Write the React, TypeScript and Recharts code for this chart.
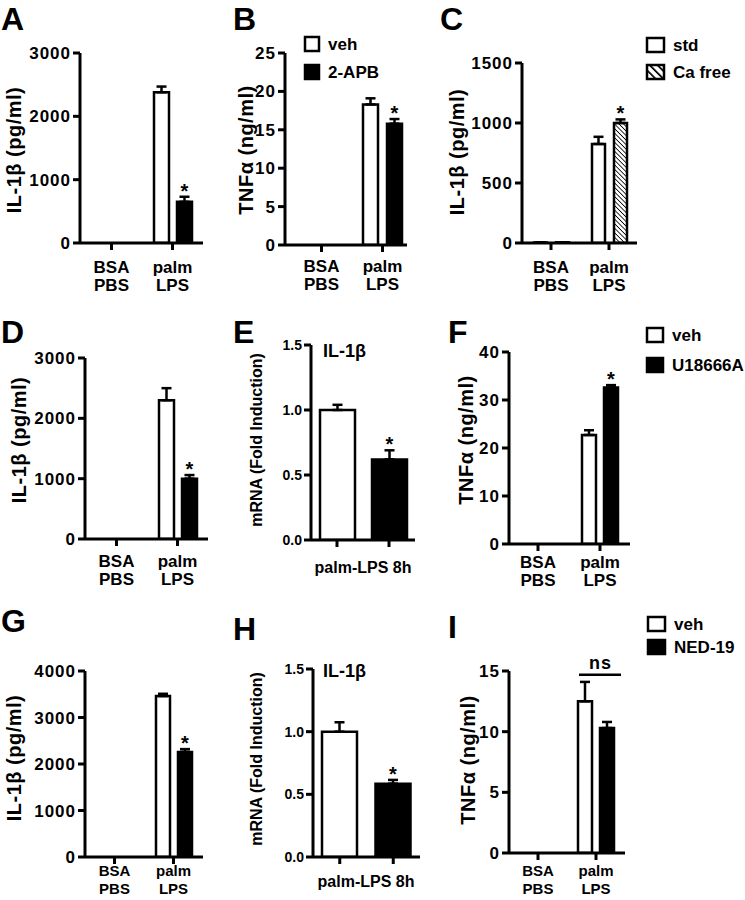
import React from "react";
import { Bar, BarChart, Cell, ErrorBar, LabelList, XAxis, YAxis } from "recharts";

const FONT = '"Liberation Sans", Arial, Helvetica, sans-serif';

// x categories
const groups = ["BSA\nPBS", "palm\nLPS"];
const eGroups = ["veh", "U18666A"];
const hGroups = ["veh", "NED-19"];

// A: IL-1β, veh vs 2-APB
const aVeh = [0, 2380];
const aVehSem = [0, 90];
const aDrug = [0, 650];
const aDrugSem = [0, 80];
const aStar = ["", "*"];

// B: TNFα, veh vs 2-APB
const bVeh = [0, 18.3];
const bVehSem = [0, 0.8];
const bDrug = [0, 15.8];
const bDrugSem = [0, 0.6];
const bStar = ["", "*"];

// C: IL-1β, std vs Ca free
const cStd = [5, 825];
const cStdSem = [0, 60];
const cCaFree = [6, 1000];
const cCaFreeSem = [0, 30];
const cStar = ["", "*"];

// D: IL-1β, veh vs U18666A
const dVeh = [0, 2300];
const dVehSem = [0, 200];
const dDrug = [0, 1000];
const dDrugSem = [0, 60];
const dStar = ["", "*"];

// E: IL-1β mRNA, palm-LPS 8h
const eMrna = [1.0, 0.62];
const eMrnaSem = [0.04, 0.07];
const eStar = ["", "*"];

// F: TNFα, veh vs U18666A
const fVeh = [0, 22.7];
const fVehSem = [0, 1.0];
const fDrug = [0, 32.6];
const fDrugSem = [0, 0.5];
const fStar = ["", "*"];

// G: IL-1β, veh vs NED-19
const gVeh = [0, 3460];
const gVehSem = [0, 50];
const gDrug = [0, 2260];
const gDrugSem = [0, 60];
const gStar = ["", "*"];

// H: IL-1β mRNA, palm-LPS 8h
const hMrna = [1.0, 0.585];
const hMrnaSem = [0.075, 0.03];
const hStar = ["", "*"];

// I: TNFα, veh vs NED-19 (not significant)
const iVeh = [0, 12.5];
const iVehSem = [0, 1.6];
const iDrug = [0, 10.3];
const iDrugSem = [0, 0.5];
const iNs = ["", "ns"];
const iNsLevel = 14.7;

const AXIS = { stroke: "#000", strokeWidth: 3 };

type Series = { key: string; err: string; star: string; fill: string };

const twoSeries = (fill2: string): Series[] => [
  { key: "v1", err: "e1", star: "s1", fill: "#fff" },
  { key: "v2", err: "e2", star: "s2", fill: fill2 },
];

const rows2 = (v1: number[], e1: number[], v2: number[], e2: number[], s2: string[], ns?: string[]) =>
  groups.map((name, i) => ({
    name, v1: v1[i], e1: e1[i], v2: v2[i], e2: e2[i], s1: "", s2: s2[i], ns: ns ? ns[i] : "",
  }));

const rows1 = (names: string[], v: number[], e: number[], s: string[]) =>
  names.map((name, i) => ({ name, v1: v[i], e1: e[i], s1: s[i], ns: "" }));

// label value is "mark|value|sem" so the mark can be placed above the error cap
const starContent = (p: any) => {
  const vb = p.viewBox ?? p;
  const [mark, v, e] = String(p.value ?? "").split("|");
  if (!mark) return null;
  const per = Math.abs(vb.height) / Number(v);
  const top = vb.y - Number(e) * per;
  return (
    <text x={vb.x + vb.width / 2} y={top + 1} textAnchor="middle" fontFamily={FONT} fontWeight={700} fontSize={20} fill="#000">
      {mark}
    </text>
  );
};

const nsContent = (p: any) => {
  const vb = p.viewBox ?? p;
  const [mark, v, level] = String(p.value ?? "").split("|");
  if (!mark) return null;
  const per = Math.abs(vb.height) / Number(v);
  const y = vb.y - (Number(level) - Number(v)) * per;
  const x2 = vb.x + vb.width * 2 + 15;
  return (
    <g>
      <line x1={vb.x + 1} x2={x2} y1={y} y2={y} stroke="#000" strokeWidth={2.5} />
      <text x={(vb.x + x2) / 2 + 1} y={y - 6} textAnchor="middle" fontFamily={FONT} fontWeight={700} fontSize={18} letterSpacing={1} fill="#000">
        {mark}
      </text>
    </g>
  );
};

const twoLineTick = (dy: number, lh: number, size: number) => (p: any) => {
  const lines = String(p.payload.value).split("\n");
  return (
    <text x={p.x} y={p.y} textAnchor="middle" fontFamily={FONT} fontWeight={700} fontSize={size} fill="#000">
      {lines.map((l, i) => (
        <tspan key={i} x={p.x} y={p.y + dy + i * lh}>
          {l}
        </tspan>
      ))}
    </text>
  );
};

const noTick = () => <g />;

type Spec = {
  x0: number;
  x1: number;
  yTop: number;
  yZero: number;
  max: number;
  ticks: number[];
  tickFont: number;
  tickSpacing: number;
  decimals?: number;
  rows: any[];
  series: Series[];
  barSize: number;
  barGap: number;
  padL: number;
  padR: number;
  labelDy: number | null;
  lineH?: number;
  labelFont?: number;
  cellFills?: string[];
  nsLevel?: number;
};

function Panel({ s }: { s: Spec }) {
  const YW = 70;
  const XH = 62;
  const MT = 24;
  const MR = 12;
  const left = s.x0 - YW;
  const top = s.yTop - MT;
  const width = s.x1 + MR - left;
  const height = s.yZero + XH - top;
  return (
    <div style={{ position: "absolute", left, top }}>
      <BarChart
        width={width}
        height={height}
        data={s.rows}
        margin={{ top: MT, right: MR, bottom: 0, left: 0 }}
        barGap={s.barGap}
        barSize={s.barSize}
      >
        <XAxis
          dataKey="name"
          height={XH}
          axisLine={AXIS}
          tickLine={AXIS}
          tickSize={7}
          tickMargin={0}
          interval={0}
          padding={{ left: s.padL, right: s.padR }}
          tick={s.labelDy === null ? noTick : twoLineTick(s.labelDy, s.lineH ?? 18, s.labelFont ?? 17)}
        />
        <YAxis
          width={YW}
          domain={[0, s.max]}
          ticks={s.ticks}
          interval={0}
          allowDataOverflow
          axisLine={AXIS}
          tickLine={AXIS}
          tickSize={7}
          tickMargin={2}
          tick={{ fill: "#000", fontSize: s.tickFont, fontWeight: 700, fontFamily: FONT, letterSpacing: s.tickSpacing }}
          tickFormatter={(v: number) => (s.decimals ? v.toFixed(s.decimals) : String(v))}
        />
        {s.series.map((se, si) => (
          <Bar key={se.key} dataKey={se.key} fill={se.fill} stroke="#000" strokeWidth={2.5} isAnimationActive={false}>
            {s.cellFills && s.cellFills.map((f, i) => <Cell key={i} fill={f} />)}
            <ErrorBar
              dataKey={(r: any) => [0, r[se.err]]}
              width={5}
              stroke="#000"
              strokeWidth={2.5}
              direction="y"
              isAnimationActive={false}
            />
            <LabelList
              dataKey={(r: any) => (r[se.star] ? `${r[se.star]}|${r[se.key]}|${r[se.err]}` : "")}
              content={starContent}
            />
            {s.nsLevel !== undefined && si === 0 && (
              <LabelList dataKey={(r: any) => (r.ns ? `${r.ns}|${r.v1}|${s.nsLevel}` : "")} content={nsContent} />
            )}
          </Bar>
        ))}
      </BarChart>
    </div>
  );
}

const panels: Spec[] = [
  {
    x0: 80, x1: 203, yTop: 53, yZero: 243, max: 3000, ticks: [0, 1000, 2000, 3000], tickFont: 17, tickSpacing: 1,
    rows: rows2(aVeh, aVehSem, aDrug, aDrugSem, aStar), series: twoSeries("#000"),
    barSize: 15, barGap: 8, padL: 1, padR: 0, labelDy: 23,
  },
  {
    x0: 285, x1: 407, yTop: 53, yZero: 245, max: 25, ticks: [0, 5, 10, 15, 20, 25], tickFont: 17, tickSpacing: 1,
    rows: rows2(bVeh, bVehSem, bDrug, bDrugSem, bStar), series: twoSeries("#000"),
    barSize: 15, barGap: 9, padL: 6, padR: -6, labelDy: 20,
  },
  {
    x0: 522, x1: 637, yTop: 63, yZero: 243, max: 1500, ticks: [0, 500, 1000, 1500], tickFont: 17, tickSpacing: 1,
    rows: rows2(cStd, cStdSem, cCaFree, cCaFreeSem, cStar), series: twoSeries("url(#hatchFine)"),
    barSize: 13, barGap: 9, padL: 0, padR: -1, labelDy: 23,
  },
  {
    x0: 85, x1: 208, yTop: 358, yZero: 539, max: 3000, ticks: [0, 1000, 2000, 3000], tickFont: 17, tickSpacing: 1,
    rows: rows2(dVeh, dVehSem, dDrug, dDrugSem, dStar), series: twoSeries("#000"),
    barSize: 15, barGap: 8, padL: 1, padR: 0, labelDy: 21,
  },
  {
    x0: 311, x1: 415, yTop: 345, yZero: 540, max: 1.5, ticks: [0, 0.5, 1, 1.5], tickFont: 14, tickSpacing: 0, decimals: 1,
    rows: rows1(eGroups, eMrna, eMrnaSem, eStar), series: [{ key: "v1", err: "e1", star: "s1", fill: "#000" }],
    barSize: 35, barGap: 0, padL: 0, padR: 0, labelDy: null, cellFills: ["#fff", "#000"],
  },
  {
    x0: 509, x1: 630, yTop: 352, yZero: 544, max: 40, ticks: [0, 10, 20, 30, 40], tickFont: 17, tickSpacing: 1,
    rows: rows2(fVeh, fVehSem, fDrug, fDrugSem, fStar), series: twoSeries("#000"),
    barSize: 14, barGap: 8, padL: -2, padR: -1, labelDy: 17,
  },
  {
    x0: 85, x1: 203, yTop: 671, yZero: 857, max: 4000, ticks: [0, 1000, 2000, 3000, 4000], tickFont: 17, tickSpacing: 1,
    rows: rows2(gVeh, gVehSem, gDrug, gDrugSem, gStar), series: twoSeries("#000"),
    barSize: 14, barGap: 8, padL: 0, padR: 0, labelDy: 12, lineH: 17.5, labelFont: 15,
  },
  {
    x0: 313, x1: 420, yTop: 669, yZero: 857, max: 1.5, ticks: [0, 0.5, 1, 1.5], tickFont: 14, tickSpacing: 0, decimals: 1,
    rows: rows1(hGroups, hMrna, hMrnaSem, hStar), series: [{ key: "v1", err: "e1", star: "s1", fill: "#000" }],
    barSize: 35, barGap: 0, padL: 0, padR: 0, labelDy: null, cellFills: ["#fff", "#000"],
  },
  {
    x0: 509, x1: 625, yTop: 671, yZero: 853, max: 15, ticks: [0, 5, 10, 15], tickFont: 17, tickSpacing: 1,
    rows: rows2(iVeh, iVehSem, iDrug, iDrugSem, ["", ""], iNs), series: twoSeries("#000"),
    barSize: 14, barGap: 8, padL: 0, padR: 0, labelDy: 16, lineH: 17.5, labelFont: 15, nsLevel: iNsLevel,
  },
];

const letters = [
  { t: "A", x: 1, y: 30 },
  { t: "B", x: 233, y: 30 },
  { t: "C", x: 440, y: 30 },
  { t: "D", x: 1, y: 343 },
  { t: "E", x: 233, y: 343 },
  { t: "F", x: 448, y: 343 },
  { t: "G", x: 1, y: 632 },
  { t: "H", x: 233, y: 640 },
  { t: "I", x: 448, y: 638 },
];

const yLabels = [
  { t: "IL-1β (pg/ml)", x: 14, y: 150, size: 20, sp: 0.5 },
  { t: "TNFα (ng/ml)", x: 246, y: 150, size: 20, sp: 0.5 },
  { t: "IL-1β (pg/ml)", x: 457, y: 152, size: 20, sp: 0.5 },
  { t: "IL-1β (pg/ml)", x: 19, y: 440, size: 20, sp: 0.5 },
  { t: "mRNA (Fold Induction)", x: 256, y: 440, size: 16, sp: 0 },
  { t: "TNFα (ng/ml)", x: 466, y: 440, size: 20, sp: 0.5 },
  { t: "IL-1β (pg/ml)", x: 14, y: 758, size: 20, sp: 0.5 },
  { t: "mRNA (Fold Induction)", x: 256, y: 759, size: 16, sp: 0 },
  { t: "TNFα (ng/ml)", x: 468, y: 760, size: 20, sp: 0.5 },
];

const legends = [
  { x: 305, y: 37, w: 14, names: ["veh", "2-APB"], fills: ["#fff", "#000"], gap: 28 },
  { x: 647, y: 38, w: 17, names: ["std", "Ca free"], fills: ["#fff", "url(#hatchWide)"], gap: 27 },
  { x: 647, y: 328, w: 16, names: ["veh", "U18666A"], fills: ["#fff", "#000"], gap: 30 },
  { x: 648, y: 617, w: 17, names: ["veh", "NED-19"], fills: ["#fff", "#000"], gap: 23 },
];

const titles = [
  { t: "IL-1β", x: 323, y: 357 },
  { t: "IL-1β", x: 323, y: 677 },
];

const xTitles = [
  { t: "palm-LPS 8h", x: 363, y: 573 },
  { t: "palm-LPS 8h", x: 366, y: 887 },
];

export default function App() {
  return (
    <div style={{ position: "absolute", left: 0, top: 0, width: 745, height: 900, background: "#fff", overflow: "hidden" }}>
      <svg width={0} height={0} style={{ position: "absolute" }}>
        <defs>
          <pattern id="hatchFine" patternUnits="userSpaceOnUse" width={3.2} height={3.2} patternTransform="rotate(-45)">
            <rect width={3.2} height={3.2} fill="#fff" />
            <line x1={0} y1={0} x2={0} y2={3.2} stroke="#000" strokeWidth={1.6} />
          </pattern>
          <pattern id="hatchWide" patternUnits="userSpaceOnUse" width={5.5} height={5.5} patternTransform="rotate(-45)">
            <rect width={5.5} height={5.5} fill="#fff" />
            <line x1={0} y1={0} x2={0} y2={5.5} stroke="#000" strokeWidth={3.4} />
          </pattern>
        </defs>
      </svg>
      {panels.map((s, i) => (
        <Panel key={i} s={s} />
      ))}
      <svg width={745} height={900} style={{ position: "absolute", left: 0, top: 0, pointerEvents: "none" }}>
        {letters.map((l) => (
          <text key={l.t} x={l.x} y={l.y} fontFamily={FONT} fontWeight={700} fontSize={32} fill="#000">
            {l.t}
          </text>
        ))}
        {yLabels.map((l, i) => (
          <text
            key={i}
            x={l.x}
            y={l.y}
            transform={`rotate(-90, ${l.x}, ${l.y})`}
            textAnchor="middle"
            dominantBaseline="central"
            fontFamily={FONT}
            fontWeight={700}
            fontSize={l.size}
            letterSpacing={l.sp}
            fill="#000"
          >
            {l.t}
          </text>
        ))}
        {legends.map((lg, i) => (
          <g key={i}>
            {lg.names.map((n, j) => (
              <g key={n}>
                <rect x={lg.x} y={lg.y + j * lg.gap} width={lg.w} height={14} fill={lg.fills[j]} stroke="#000" strokeWidth={2.5} />
                <text x={lg.x + lg.w + 9} y={lg.y + j * lg.gap + 13} fontFamily={FONT} fontWeight={700} fontSize={17} fill="#000">
                  {n}
                </text>
              </g>
            ))}
          </g>
        ))}
        {titles.map((t, i) => (
          <text key={i} x={t.x} y={t.y} fontFamily={FONT} fontWeight={700} fontSize={18} fill="#000">
            {t.t}
          </text>
        ))}
        {xTitles.map((t, i) => (
          <text key={i} x={t.x} y={t.y} textAnchor="middle" fontFamily={FONT} fontWeight={700} fontSize={16} fill="#000">
            {t.t}
          </text>
        ))}
      </svg>
    </div>
  );
}
